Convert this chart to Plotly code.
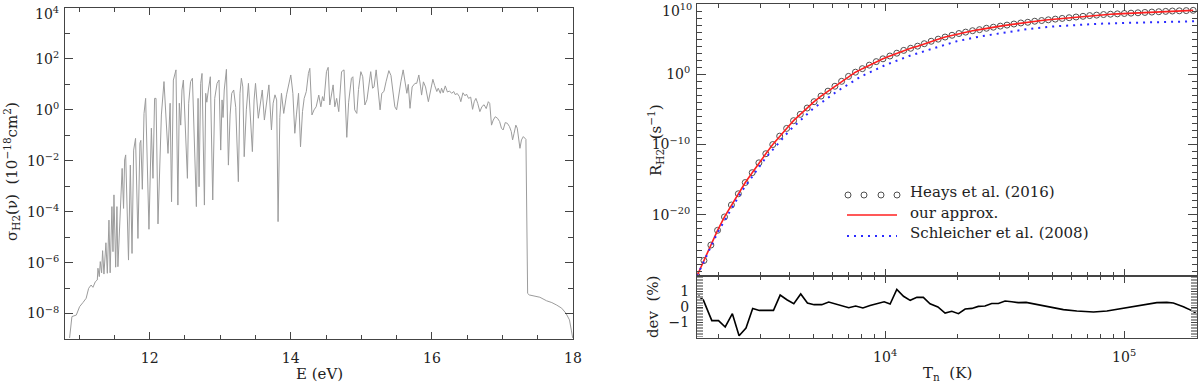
import numpy as np
import plotly.graph_objects as go

W, H = 1200, 385
FONT = "DejaVu Serif"
INK = "#222222"
FRAME = "#444444"

# ---------------------------------------------------------------------------
# Left panel: H2 cross section
# energy in eV, log10 of sigma in units of 1e-18 cm^2
# ---------------------------------------------------------------------------
energy_ev = [
    10.865, 10.898, 10.96, 11.007, 11.054, 11.10, 11.135, 11.17, 11.196, 11.23,
    11.258, 11.267, 11.286, 11.30, 11.319, 11.333, 11.352, 11.38, 11.40, 11.423,
    11.44, 11.465, 11.48, 11.494, 11.518, 11.536, 11.55, 11.575, 11.61, 11.63,
    11.645, 11.66, 11.674, 11.70, 11.726, 11.75, 11.773, 11.80, 11.834, 11.862,
    11.875, 11.896, 11.92, 11.943, 11.99, 12.024, 12.047, 12.07, 12.09, 12.118,
    12.166, 12.203, 12.26, 12.29, 12.31, 12.336, 12.373, 12.40, 12.42, 12.44,
    12.458, 12.478, 12.535, 12.553, 12.58, 12.606, 12.662, 12.686, 12.70, 12.723,
    12.742, 12.776, 12.794, 12.81, 12.832, 12.86, 12.894, 12.922, 12.955, 12.983,
    13.007, 13.026, 13.04, 13.057, 13.088, 13.116, 13.14, 13.163, 13.191, 13.22,
    13.257, 13.28, 13.30, 13.32, 13.34, 13.37, 13.40, 13.432, 13.456, 13.48,
    13.50, 13.54, 13.57, 13.596, 13.626, 13.66, 13.69, 13.726, 13.75, 13.776,
    13.80, 13.82, 13.845, 13.868, 13.90, 13.94, 13.97, 14.00, 14.03, 14.057,
    14.08, 14.11, 14.138, 14.166, 14.19, 14.22, 14.25, 14.27, 14.30, 14.33,
    14.36, 14.397, 14.426, 14.45, 14.47, 14.506, 14.53, 14.553, 14.60, 14.624,
    14.65, 14.68, 14.72, 14.755, 14.794, 14.82, 14.86, 14.88, 14.906, 14.936,
    14.96, 14.993, 15.02, 15.05, 15.08, 15.105, 15.133, 15.16, 15.18, 15.21,
    15.24, 15.266, 15.29, 15.32, 15.35, 15.39, 15.42, 15.455, 15.475, 15.50,
    15.53, 15.56, 15.593, 15.62, 15.645, 15.665, 15.69, 15.72, 15.76, 15.785,
    15.815, 15.84, 15.854, 15.88, 15.91, 15.95, 15.99, 16.014, 16.04, 16.07,
    16.09, 16.12, 16.137, 16.16, 16.19, 16.22, 16.25, 16.28, 16.31, 16.33,
    16.36, 16.39, 16.41, 16.44, 16.47, 16.49, 16.52, 16.55, 16.577, 16.60,
    16.624, 16.65, 16.68, 16.71, 16.74, 16.77, 16.80, 16.82, 16.845, 16.87,
    16.898, 16.93, 16.96, 16.986, 17.01, 17.04, 17.07, 17.10, 17.125, 17.144,
    17.165, 17.19, 17.21, 17.248, 17.27, 17.296, 17.333, 17.357, 17.38, 17.45,
    17.53, 17.626, 17.70, 17.77, 17.84, 17.90, 17.95, 17.976, 17.996,
]
log_sigma = [
    -8.96, -8.12, -8.06, -7.73, -7.57, -7.40, -7.01, -6.88, -6.97, -6.75,
    -6.68, -6.22, -6.55, -5.96, -6.40, -5.53, -6.45, -5.22, -6.42, -4.33,
    -6.40, -3.80, -5.57, -3.34, -6.18, -3.80, -6.16, -4.50, -2.30, -3.87,
    -1.97, -1.77, -3.41, -5.90, -2.17, -5.64, -1.58, -1.12, -5.05, -1.31,
    -1.20, -3.12, -0.14, 0.45, -4.69, -0.72, -2.69, 0.45, 0.45, -4.48,
    -0.20, 1.11, -1.71, 0.26, -3.61, 1.17, 1.57, -3.74, 0.26, -0.60,
    0.78, 1.17, -2.69, 0.26, 1.11, 1.24, -3.80, 0.45, -3.02, 1.04,
    1.43, -3.74, 0.65, 0.30, 0.78, 1.30, -3.54, 0.45, 1.04, 1.17,
    -1.58, 0.39, -0.30, 0.78, 1.59, -2.17, -0.20, 0.65, 0.78, 0.10,
    -2.82, 0.65, 1.24, 0.90, -1.84, 0.00, 1.04, -0.33, -1.64, 0.39,
    1.04, -0.33, 0.39, 0.78, -0.40, 0.39, 0.98, -0.79, 0.26, 0.59,
    0.39, -4.39, -0.30, 0.65, -0.14, 0.59, 1.04, 1.37, 0.65, -0.92,
    -0.20, 0.65, -1.45, -0.07, 0.45, 0.72, 1.43, 1.63, -0.20, 0.00,
    0.12, 0.58, 0.12, 0.52, 0.35, 1.50, 1.67, 0.19, 0.98, 0.12,
    0.45, -0.07, 1.50, 1.57, -1.08, 0.30, 1.24, 1.30, 0.00, -0.14,
    0.80, 1.50, 1.30, 0.19, 0.40, 1.04, 1.50, 0.85, 0.90, 1.57,
    0.60, 0.00, 0.65, 0.72, 1.10, 1.54, 1.35, 0.50, 0.12, 0.00,
    0.60, 1.10, 1.57, 1.00, 0.65, 1.00, 0.06, 0.90, 1.04, 1.04,
    1.37, 0.90, 0.58, 1.10, 0.90, 0.32, 0.90, 1.20, 0.95, 0.72,
    0.85, 0.65, 0.85, 0.67, 0.94, 0.70, 0.74, 0.65, 0.72, 0.60,
    0.64, 0.52, 0.32, 0.67, 0.55, 0.62, 0.45, 0.50, 0.02, 0.32,
    0.45, 0.25, -0.07, 0.13, 0.20, 0.05, 0.32, 0.25, -0.60, -0.40,
    -0.27, -0.33, -0.46, -0.72, -0.79, -0.50, -0.53, -0.66, -0.85, -1.18,
    -0.92, -0.60, -0.72, -1.51, -1.18, -1.05, -1.16, -7.21, -7.27, -7.30,
    -7.36, -7.50, -7.57, -7.67, -7.79, -7.99, -8.25, -8.65, -8.96,
]

# ---------------------------------------------------------------------------
# Right panel: rate vs temperature (log10 T in K, log10 R in s^-1)
# ---------------------------------------------------------------------------
log_t_heays = [
    3.213, 3.242, 3.271, 3.299, 3.328, 3.357, 3.386, 3.415, 3.444, 3.472,
    3.501, 3.530, 3.559, 3.588, 3.617, 3.645, 3.674, 3.703, 3.732, 3.761,
    3.790, 3.818, 3.847, 3.876, 3.905, 3.934, 3.963, 3.991, 4.020, 4.049,
    4.078, 4.107, 4.136, 4.164, 4.193, 4.222, 4.251, 4.280, 4.309, 4.337,
    4.366, 4.395, 4.424, 4.453, 4.482, 4.510, 4.539, 4.568, 4.597, 4.626,
    4.655, 4.683, 4.712, 4.741, 4.770, 4.799, 4.828, 4.856, 4.885, 4.914,
    4.943, 4.972, 5.001, 5.029, 5.058, 5.087, 5.116, 5.145, 5.174, 5.202,
    5.231, 5.260, 5.289,
]
log_r_heays = [
    -28.7, -26.5, -24.3, -22.2, -20.3, -18.6, -17.0, -15.4, -14.0, -12.6,
    -11.3, -10.0, -8.8, -7.7, -6.6, -5.7, -4.8, -3.9, -3.1, -2.4,
    -1.7, -1.0, -0.3, 0.3, 0.8, 1.3, 1.8, 2.2, 2.6, 3.0,
    3.4, 3.7, 4.0, 4.35, 4.7, 5.0, 5.3, 5.55, 5.8, 6.0,
    6.2, 6.35, 6.55, 6.7, 6.85, 7.0, 7.15, 7.3, 7.4, 7.55,
    7.65, 7.75, 7.85, 7.95, 8.05, 8.15, 8.25, 8.35, 8.42, 8.5,
    8.55, 8.6, 8.65, 8.7, 8.75, 8.8, 8.85, 8.9, 8.95, 9.0,
    9.03, 9.06, 9.1,
]
# the fit lies on top of the Heays points at this scale
log_t_approx = log_t_heays
log_r_approx = log_r_heays

log_t_schleicher = [3.213, 3.30, 3.40, 3.50, 3.60, 3.70, 3.80, 3.90, 4.00, 4.10, 4.20,
                    4.30, 4.40, 4.50, 4.60, 4.70, 4.80, 4.90, 5.00, 5.10, 5.20, 5.305]
log_r_schleicher = [-28.7, -22.45, -16.65, -11.9, -8.0, -4.85, -2.4, -0.3, 1.3, 2.6, 3.67,
                    4.7, 5.4, 5.95, 6.45, 6.8, 7.05, 7.2, 7.3, 7.38, 7.45, 7.55]

# deviation of the fit from Heays et al., in percent
log_t_dev = [
    3.219, 3.240, 3.275, 3.303, 3.331, 3.361, 3.389, 3.418, 3.446, 3.474,
    3.533, 3.561, 3.589, 3.618, 3.647, 3.675, 3.703, 3.735, 3.764, 3.795,
    3.823, 3.848, 3.877, 3.907, 3.937, 3.965, 3.996, 4.021, 4.049, 4.077,
    4.105, 4.133, 4.160, 4.188, 4.221, 4.251, 4.279, 4.307, 4.335, 4.363,
    4.390, 4.418, 4.446, 4.474, 4.502, 4.530, 4.558, 4.590, 4.621, 4.663,
    4.704, 4.746, 4.802, 4.872, 4.928, 4.983, 5.039, 5.095, 5.137, 5.179,
    5.206, 5.248, 5.290, 5.311,
]
dev_pct = [
    0.73, 0.43, -0.88, -0.88, -1.29, -0.43, -1.85, -1.36, -0.09, -0.22,
    -0.22, 0.77, 0.47, 0.21, 0.84, 0.26, 0.15, 0.15, 0.32, 0.19,
    0.08, -0.05, 0.06, -0.06, 0.10, 0.21, 0.34, 0.19, 1.14, 0.69,
    0.43, 0.62, 0.62, 0.21, 0.00, -0.39, -0.28, -0.43, -0.13, -0.09,
    0.04, 0.06, 0.23, 0.23, 0.39, 0.34, 0.28, 0.30, 0.21, 0.10,
    0.00, -0.17, -0.26, -0.32, -0.26, -0.11, 0.02, 0.17, 0.28, 0.30,
    0.26, 0.02, -0.28, -0.56,
]

# tick positions / labels
left_x_ticks = [12, 14, 16, 18]
left_x_minor = [11, 11.5, 12.5, 13, 13.5, 14.5, 15, 15.5, 16.5, 17, 17.5]
left_y_exponents = [-8, -6, -4, -2, 0, 2, 4]
right_y_exponents = [-20, -10, 0, 10]
right_x_exponents = [4, 5]
dev_ticks = [-1, 0, 1]

assert len(energy_ev) == len(log_sigma)
assert len(log_t_heays) == len(log_r_heays)
assert len(log_t_schleicher) == len(log_r_schleicher)
assert len(log_t_dev) == len(dev_pct)


def fx(px):
    return px / W


def fy(py):
    return 1 - py / H


def pow10(e):
    return "10<sup>%s</sup>" % str(e).replace("-", "\u2212")


def frame_axis(**kw):
    ax = dict(showline=True, linecolor=FRAME, linewidth=1, mirror="allticks",
              ticks="inside", tickcolor=FRAME, tickwidth=1, showgrid=False,
              zeroline=False, tickmode="array", automargin=False,
              ticklabeloverflow="allow",
              tickfont=dict(family=FONT, size=14, color=INK))
    ax.update(kw)
    return ax


def minor_ticks(vals, length, color=FRAME):
    return dict(tickmode="array", tickvals=vals, ticklen=length, ticks="inside",
                tickcolor=color, tickwidth=1, showgrid=False)


fig = go.Figure()

fig.add_trace(go.Scatter(
    x=energy_ev, y=10 ** np.array(log_sigma), mode="lines",
    line=dict(color="#9c9c9c", width=1), xaxis="x", yaxis="y"))

fig.add_trace(go.Scatter(
    x=10 ** np.array(log_t_heays), y=10 ** np.array(log_r_heays), mode="markers",
    marker=dict(symbol="circle-open", size=6, color="#505050", line=dict(width=1)),
    xaxis="x2", yaxis="y2"))
fig.add_trace(go.Scatter(
    x=10 ** np.array(log_t_approx), y=10 ** np.array(log_r_approx), mode="lines",
    line=dict(color="#ff2020", width=1.6), xaxis="x2", yaxis="y2"))
fig.add_trace(go.Scatter(
    x=10 ** np.array(log_t_schleicher), y=10 ** np.array(log_r_schleicher), mode="lines",
    line=dict(color="#2b2bff", width=2, dash="2px,5px"), xaxis="x2", yaxis="y2"))

fig.add_trace(go.Scatter(
    x=10 ** np.array(log_t_dev), y=dev_pct, mode="lines",
    line=dict(color="black", width=1.6), xaxis="x3", yaxis="y3"))

# minor tick positions on the log axes
decade_minor_t = [m * 10 ** d for d in (3, 4) for m in range(2, 10)] + [2e5]
decades_r = [10.0 ** e for e in range(-28, 10) if e not in right_y_exponents]
odd_decades_sigma = [10.0 ** e for e in range(-9, 4) if e not in left_y_exponents]
dev_minor = [round(-2 + 0.1 * i, 1) for i in range(41)]

right_x_dom = [fx(697), fx(1197)]

# the topmost labels sit a little below their tick (as in the original), so
# they are written as annotations further down instead of tick labels
left_y_text = [pow10(e) if e != 4 else "" for e in left_y_exponents]
right_y_text = [pow10(e) if e != 10 else "" for e in right_y_exponents]

fig.update_layout(
    width=W, height=H,
    margin=dict(l=0, r=0, t=0, b=0, autoexpand=False),
    paper_bgcolor="white", plot_bgcolor="white",
    showlegend=False,
    font=dict(family=FONT, color=INK),
    xaxis=frame_axis(
        domain=[fx(65), fx(573)], anchor="y", range=[10.8, 18.0001],
        tickvals=left_x_ticks, ticktext=[str(v) for v in left_x_ticks],
        ticklen=7, ticklabelstandoff=6,
        minor=minor_ticks(left_x_minor, 4)),
    yaxis=frame_axis(
        type="log", domain=[fy(339), fy(8)], anchor="x", range=[-9, 4.0002],
        tickvals=[10.0 ** e for e in left_y_exponents], ticktext=left_y_text,
        ticklen=8, ticklabelstandoff=2,
        minor=minor_ticks(odd_decades_sigma, 5)),
    xaxis2=frame_axis(
        type="log", domain=right_x_dom, anchor="y2", range=[3.213, 5.305],
        tickvals=[10.0 ** e for e in right_x_exponents], showticklabels=False,
        ticklen=7, minor=minor_ticks(decade_minor_t, 4)),
    yaxis2=frame_axis(
        type="log", domain=[fy(276), fy(4)], anchor="x2", range=[-28.7, 10.0005],
        tickvals=[10.0 ** e for e in right_y_exponents], ticktext=right_y_text,
        ticklen=9, ticklabelstandoff=3,
        minor=minor_ticks(decades_r, 5)),
    xaxis3=frame_axis(
        type="log", domain=right_x_dom, anchor="y3", range=[3.213, 5.305],
        matches="x2",
        tickvals=[10.0 ** e for e in right_x_exponents],
        ticktext=[pow10(e) for e in right_x_exponents],
        ticklen=7, ticklabelstandoff=6,
        minor=minor_ticks(decade_minor_t, 4)),
    yaxis3=frame_axis(
        domain=[fy(338), fy(276)], anchor="x3", range=[-2, 2],
        tickvals=dev_ticks, ticktext=[str(v).replace("-", "\u2212") for v in dev_ticks],
        ticklen=6, ticklabelstandoff=4,
        minor=minor_ticks(dev_minor, 6, color="#9a9a9a")),
)


def label(text, x, y, angle=0, size=15, anchor="center"):
    fig.add_annotation(text=text, x=fx(x), y=fy(y), xref="paper", yref="paper",
                       showarrow=False, textangle=angle, xanchor=anchor, yanchor="middle",
                       font=dict(family=FONT, size=size, color=INK))


label(pow10(4), 61, 13, size=14, anchor="right")
label(pow10(10), 694, 10, size=14, anchor="right")

label("E (eV)", 319, 374)
label("\u03c3<sub>H2</sub>(\u03bd)  (10<sup>\u221218</sup>cm<sup>2</sup>)", 12, 172, angle=-90)
label("R<sub>H2</sub>  (s<sup>\u22121</sup>)", 655, 140, angle=-90)
label("dev  (%)", 653, 307, angle=-90)
label("T<sub>n</sub>  (K)", 947, 373)

# legend drawn by hand, IDL style
legend_rows = ["Heays et al. (2016)", "our approx.", "Schleicher et al. (2008)"]
for text, ty in zip(legend_rows, [192, 212.5, 233]):
    label(text, 908, ty, anchor="left")

shapes = []
for cx in (848, 864, 881, 897):
    shapes.append(dict(type="circle", xref="paper", yref="paper",
                       x0=fx(cx - 3), x1=fx(cx + 3), y0=fy(195 + 3), y1=fy(195 - 3),
                       line=dict(color="#505050", width=1)))
shapes.append(dict(type="line", xref="paper", yref="paper",
                   x0=fx(847), x1=fx(897), y0=fy(215), y1=fy(215),
                   line=dict(color="#ff2020", width=1.6)))
shapes.append(dict(type="line", xref="paper", yref="paper",
                   x0=fx(847), x1=fx(897), y0=fy(236), y1=fy(236),
                   line=dict(color="#2b2bff", width=2, dash="2px,5px")))
fig.update_layout(shapes=shapes)

# the page body has a default 8px margin; drop it so the figure sits at (0, 0)
fig.write_html("out.html", config={"displayModeBar": False},
               post_script="document.body.style.margin='0px';")
